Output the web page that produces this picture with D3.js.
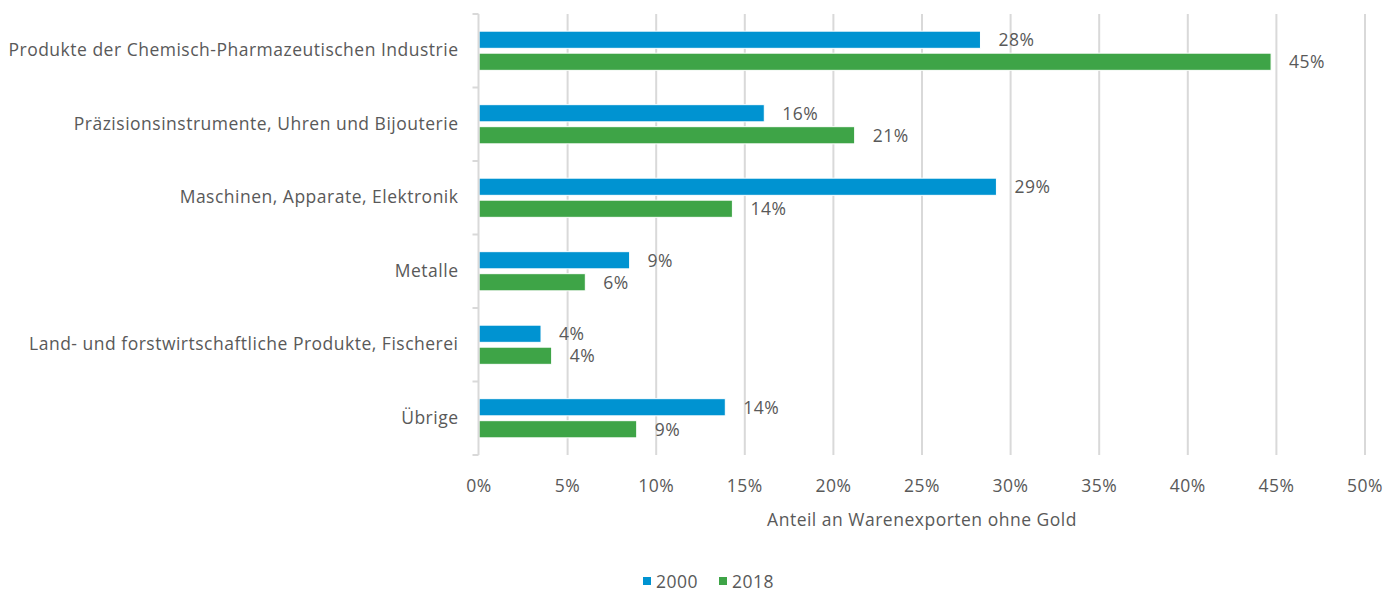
<!DOCTYPE html>
<html>
<head>
<meta charset="utf-8">
<script src="https://cdn.jsdelivr.net/npm/d3@7"></script>
<style>
  body { margin: 0; background: #fff; }
  text { font-family: "Open Sans", sans-serif; fill: #595959; letter-spacing: 0.5px; }
</style>
</head>
<body>
<script>
'use strict';

// categories, top to bottom
const categories = [
  "Produkte der Chemisch-Pharmazeutischen Industrie",
  "Präzisionsinstrumente, Uhren und Bijouterie",
  "Maschinen, Apparate, Elektronik",
  "Metalle",
  "Land- und forstwirtschaftliche Produkte, Fischerei",
  "Übrige"
];
const seriesNames = ["2000", "2018"];
const values2000 = [28.3, 16.1, 29.2, 8.5, 3.5, 13.9];
const values2018 = [44.7, 21.2, 14.3, 6.0, 4.1, 8.9];
const xTicks = [0, 5, 10, 15, 20, 25, 30, 35, 40, 45, 50];

const colors = { "2000": "#0093d1", "2018": "#3ea447" };
const fontSize = '17.5px';

(function() {
  const width = 1385, height = 592;
  const svg = d3.select('body').append('svg')
    .attr('width', width)
    .attr('height', height);

  const left = 479, right = 1365, top = 14, bottom = 455;

  let xScale = d3.scaleLinear().domain([0, 50]).range([left, right]);
  let yScale = d3.scaleBand().domain(categories).range([top, bottom]);
  let inner = d3.scaleBand().domain(seriesNames).range([0, yScale.bandwidth()])
    .paddingInner(0.22).paddingOuter(0.78);

  // vertical gridlines
  svg.append('g').selectAll('line')
    .data(xTicks.slice(1))
    .enter().append('line')
      .attr('x1', d => xScale(d)).attr('x2', d => xScale(d))
      .attr('y1', top).attr('y2', bottom)
      .attr('stroke', '#d9d9d9')
      .attr('stroke-width', 2);

  // x tick labels
  svg.append('g').selectAll('text')
    .data(xTicks)
    .enter().append('text')
      .attr('x', d => xScale(d))
      .attr('y', 492)
      .attr('text-anchor', 'middle')
      .style('font-size', fontSize)
      .text(d => d + '%');

  // bars
  let rows = [];
  categories.forEach((c, i) => {
    rows.push({ cat: c, key: "2000", v: values2000[i] });
    rows.push({ cat: c, key: "2018", v: values2018[i] });
  });

  svg.append('g').selectAll('rect')
    .data(rows)
    .enter().append('rect')
      .attr('x', xScale(0))
      .attr('y', d => yScale(d.cat) + inner(d.key))
      .attr('width', d => xScale(d.v) - xScale(0))
      .attr('height', inner.bandwidth())
      .attr('fill', d => colors[d.key])
      .attr('stroke', '#fff')
      .attr('stroke-width', 1);

  // value labels
  svg.append('g').selectAll('text')
    .data(rows)
    .enter().append('text')
      .attr('x', d => xScale(d.v) + 18)
      .attr('y', d => yScale(d.cat) + inner(d.key) + inner.bandwidth() / 2)
      .attr('dy', '0.36em')
      .style('font-size', fontSize)
      .text(d => Math.round(d.v) + '%');

  // y axis line and ticks
  let yAxis = d3.axisLeft(yScale).tickSize(0).tickPadding(20);
  let yg = svg.append('g')
    .attr('transform', `translate(${left - 0.5}, 0)`)
    .call(yAxis);
  yg.select('.domain').attr('stroke', '#d9d9d9').attr('stroke-width', 2)
    .attr('d', `M0,${top}V${bottom}`);
  yg.selectAll('text').style('font-size', fontSize).attr('fill', '#595959')
    .style('font-family', '"Open Sans", sans-serif');
  yg.selectAll('.bnd')
    .data(d3.range(categories.length + 1))
    .enter().append('line')
      .attr('class', 'bnd')
      .attr('x1', -6).attr('x2', 0)
      .attr('y1', i => top + i * yScale.step())
      .attr('y2', i => top + i * yScale.step())
      .attr('stroke', '#d9d9d9')
      .attr('stroke-width', 2);

  // axis title
  svg.append('text')
    .attr('x', (left + right) / 2)
    .attr('y', 526)
    .attr('text-anchor', 'middle')
    .style('font-size', fontSize)
    .text('Anteil an Warenexporten ohne Gold');

  // legend
  let lg = svg.append('g').attr('transform', 'translate(643, 588)');
  seriesNames.forEach((s, i) => {
    let g = lg.append('g').attr('transform', `translate(${i * 76}, 0)`);
    g.append('rect').attr('x', 0).attr('y', -11).attr('width', 8).attr('height', 8)
      .attr('fill', colors[s]);
    g.append('text').attr('x', 13).attr('y', 0)
      .style('font-size', fontSize).text(s);
  });
})();
</script>
</body>
</html>
